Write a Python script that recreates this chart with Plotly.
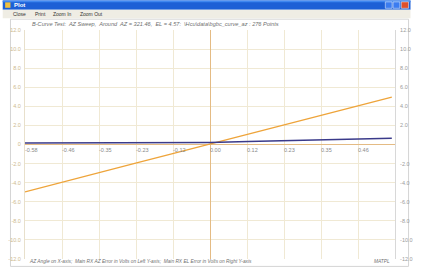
import plotly.graph_objects as go

# ---- data ----
az_angle = [-0.58, -0.46, -0.35, -0.23, -0.12, 0.0, 0.12, 0.23, 0.35, 0.46, 0.57]
az_error = [-4.97, -3.95, -2.98, -1.93, -0.98, 0.05, 1.07, 2.03, 3.06, 4.02, 4.96]
el_error = [0.16, 0.16, 0.17, 0.21, 0.21, 0.22, 0.31, 0.40, 0.49, 0.57, 0.66]

x_tick_vals = [-0.58, -0.464, -0.348, -0.232, -0.116, 0.0, 0.116, 0.232, 0.348, 0.464]
x_tick_text = ["-0.58", "-0.46", "-0.35", "-0.23", "-0.12", "0.00", "0.12", "0.23", "0.35", "0.46"]
y_tick_vals = [12, 10, 8, 6, 4, 2, 0, -2, -4, -6, -8, -10, -12]
y_left_text = ["12.0", "10.0", "8.0", "6.0", "4.0", "2.0", "0", "-2.0", "-4.0", "-6.0", "-8.0", "-10.0", "-12.0"]
y_right_vals = [12, 10, 8, 6, 4, 2, -2, -4, -6, -8, -10, -12]
y_right_text = ["12.0", "10.0", "8.0", "6.0", "4.0", "2.0", "-2.0", "-4.0", "-6.0", "-8.0", "-10.0", "-12.0"]

title_text = "B-Curve Test:  AZ Sweep,  Around  AZ = 321.46,  EL = 4.57:  \\Hcu\\data\\bgbc_curve_az : 276 Points"
footer_text = "AZ Angle on X-axis;  Main RX AZ Error in Volts on Left Y-axis;  Main RX EL Error in Volts on Right Y-axis"

W, H = 421, 270
L, R, T, B = 23, 16, 30, 8
PW, PH = W - L - R, H - T - B

def px(x):
    return (x - L) / PW

def py(y):
    return (H - B - y) / PH

GRID = "#f0e9d4"
AXIS = "#e4bb84"
FONT = "Liberation Sans, Arial, sans-serif"

fig = go.Figure()
fig.add_trace(go.Scatter(x=az_angle, y=az_error, mode="lines",
                         line=dict(color="#eea43a", width=1.3), yaxis="y"))
fig.add_trace(go.Scatter(x=az_angle, y=el_error, mode="lines",
                         line=dict(color="#3a3a8a", width=1.5), yaxis="y2"))

shapes = []
# panel
shapes.append(dict(type="rect", xref="paper", yref="paper", x0=px(8), x1=px(419), y0=py(19), y1=py(269.5),
                   line=dict(color="#d4d4d4", width=1), fillcolor="white", layer="below"))
# title bar
shapes.append(dict(type="rect", xref="paper", yref="paper", x0=px(0), x1=px(421), y0=py(0), y1=py(9.5),
                   line=dict(width=0), fillcolor="#1d5fd6", layer="below"))
shapes.append(dict(type="rect", xref="paper", yref="paper", x0=px(0), x1=px(421), y0=py(0), y1=py(2),
                   line=dict(width=0), fillcolor="#3f86f0", layer="below"))
# menu bar
shapes.append(dict(type="rect", xref="paper", yref="paper", x0=px(0), x1=px(421), y0=py(9.5), y1=py(18),
                   line=dict(width=0), fillcolor="#efede4", layer="below"))
# window buttons
shapes.append(dict(type="rect", xref="paper", yref="paper", x0=px(395), x1=px(402), y0=py(1.5), y1=py(8),
                   line=dict(color="white", width=0.5), fillcolor="#3b7cf0", layer="below"))
shapes.append(dict(type="rect", xref="paper", yref="paper", x0=px(403), x1=px(410), y0=py(1.5), y1=py(8),
                   line=dict(color="white", width=0.5), fillcolor="#3b7cf0", layer="below"))
shapes.append(dict(type="rect", xref="paper", yref="paper", x0=px(411.5), x1=px(419), y0=py(1.5), y1=py(8),
                   line=dict(color="white", width=0.5), fillcolor="#e0502c", layer="below"))
# icon
shapes.append(dict(type="rect", xref="paper", yref="paper", x0=px(2.5), x1=px(8), y0=py(2), y1=py(7.5),
                   line=dict(width=0), fillcolor="#f0c040", layer="below"))

annotations = [
    dict(text="<b>Plot</b>", x=px(10), y=py(5), xref="paper", yref="paper", xanchor="left", yanchor="middle",
         showarrow=False, font=dict(family=FONT, size=6, color="white")),
    dict(text="Close", x=px(9), y=py(14), xref="paper", yref="paper", xanchor="left", yanchor="middle",
         showarrow=False, font=dict(family=FONT, size=5, color="#333")),
    dict(text="Print", x=px(31), y=py(14), xref="paper", yref="paper", xanchor="left", yanchor="middle",
         showarrow=False, font=dict(family=FONT, size=5, color="#333")),
    dict(text="Zoom In", x=px(50), y=py(14), xref="paper", yref="paper", xanchor="left", yanchor="middle",
         showarrow=False, font=dict(family=FONT, size=5, color="#333")),
    dict(text="Zoom Out", x=px(78), y=py(14), xref="paper", yref="paper", xanchor="left", yanchor="middle",
         showarrow=False, font=dict(family=FONT, size=5, color="#333")),
    dict(text="<i>" + title_text + "</i>", x=px(28), y=py(24), xref="paper", yref="paper",
         xanchor="left", yanchor="middle", showarrow=False,
         font=dict(family=FONT, size=5.6, color="#707070")),
    dict(text="<i>" + footer_text + "</i>", x=px(25), y=py(264.5), xref="paper", yref="paper",
         xanchor="left", yanchor="middle", showarrow=False,
         font=dict(family=FONT, size=4.8, color="#707070")),
    dict(text="<i>MATPL</i>", x=px(402), y=py(264.5), xref="paper", yref="paper",
         xanchor="right", yanchor="middle", showarrow=False,
         font=dict(family=FONT, size=4.8, color="#707070")),
]

fig.update_layout(
    width=W, height=H,
    margin=dict(l=L, r=R, t=T, b=B, pad=0),
    paper_bgcolor="white", plot_bgcolor="white",
    showlegend=False,
    shapes=shapes, annotations=annotations,
    xaxis=dict(range=[-0.58, 0.58], tickvals=x_tick_vals, ticktext=x_tick_text,
               anchor="free", position=0.5, ticks="", ticklabelposition="outside right",
               ticklabelstandoff=1,
               tickfont=dict(family=FONT, size=5.5, color="#8a8a8a"),
               showgrid=True, gridcolor=GRID, gridwidth=1,
               zeroline=True, zerolinecolor=AXIS, zerolinewidth=1.2,
               showline=False),
    yaxis=dict(range=[-12, 12], tickvals=y_tick_vals, ticktext=y_left_text, ticks="",
               tickfont=dict(family=FONT, size=5.5, color="#cdb98e"),
               showgrid=True, gridcolor=GRID, gridwidth=1,
               zeroline=True, zerolinecolor=AXIS, zerolinewidth=1.2,
               showline=True, linecolor="#e8e0cc", mirror=False, ticklabelstandoff=2),
    yaxis2=dict(range=[-12, 12], overlaying="y", side="right", tickvals=y_right_vals,
                ticktext=y_right_text, ticks="",
                tickfont=dict(family=FONT, size=5.5, color="#9a9a9a"),
                showgrid=False, zeroline=False,
                showline=True, linecolor="#d8d8d8", ticklabelstandoff=3),
)

fig.write_html("out.html", config={"displayModeBar": False},
               post_script="document.body.style.margin='0';document.body.style.padding='0';"
                           "document.documentElement.style.overflow='hidden';")
